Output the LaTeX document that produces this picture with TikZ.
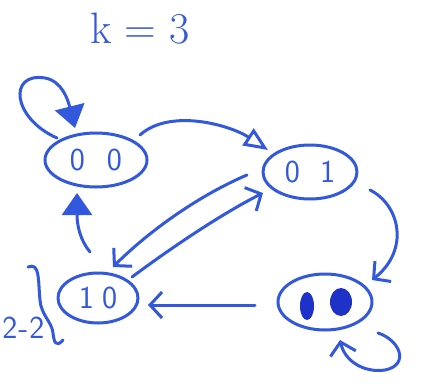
\documentclass[tikz,border=0pt]{standalone}
\usetikzlibrary{arrows.meta,shapes.geometric,calc}
\definecolor{pen}{RGB}{50,88,220}
\definecolor{ink}{RGB}{30,50,200}
\begin{document}
\begin{tikzpicture}[x=1pt,y=-1pt,
  line cap=round, line join=round,
  state/.style={draw=pen, ellipse, inner sep=0pt, line width=3pt,
    font=\sffamily\fontsize{32}{32}\selectfont, text=pen},
  edge/.style={draw=pen, line width=3pt},
  barb/.style={-{Straight Barb[length=12pt,width=26pt]}},
  ftri/.style={-{Triangle[length=22pt,width=30pt]}},
  otri/.style={-{Triangle[open,length=24pt,width=20pt]}}
]
\useasboundingbox (0,0) rectangle (421,388);

\node[text=pen, font=\fontsize{44}{44}\selectfont] (k) at (140,29) {k = 3};

\node[state, minimum width=102pt, minimum height=54pt] (n00) at (96,160) {0\hspace{22pt}0};
\node[state, minimum width=94pt, minimum height=54pt] (n01) at (310,172) {0\hspace{20pt}1};
\node[state, minimum width=80pt, minimum height=50pt] (n10) at (98,298) {1\hspace{8pt}0};
\node[state, minimum width=94pt, minimum height=56pt] (n11) at (325,302) {};
\fill[ink] ($(n11)+(-18,4)$) ellipse [x radius=7pt, y radius=14pt];
\fill[ink] ($(n11)+(16,0)$) ellipse [x radius=11pt, y radius=14pt];

\node[text=pen, font=\sffamily\fontsize{32}{32}\selectfont, anchor=east] (lbl) at (48,328) {2\kern1pt-\kern1pt2};
\draw[edge] (28,267) .. controls (40,262) and (38,280) .. (40,300)
  .. controls (41,315) and (52,322) .. (53,333)
  .. controls (54,342) and (56,348) .. (63,340);

% loop on 00
\draw[edge, ftri] ($(n00)+(-39,-22)$) .. controls (12,118) and (8,72) .. (45,78)
  .. controls (62,81) and (68,100) .. ($(n00)+(-21,-32)$);
% 00 -> 01
\draw[edge, otri] ($(n00)+(44,-25)$) .. controls (170,108) and (230,125) .. ($(n01)+(-42,-22)$);
% 10 -> 00
\draw[edge, ftri] ($(n10)+(-8,-46)$) .. controls (80,240) and (77,225) .. ($(n00)+(-19,33)$);
% 01 -> 10
\draw[edge, barb] ($(n01)+(-63,3)$) .. controls (200,195) and (150,230) .. ($(n10)+(15,-31)$);
% 10 -> 01
\draw[edge, barb] ($(n10)+(34,-21)$) .. controls (175,245) and (225,212) .. ($(n01)+(-47,21)$);
% 01 -> 11
\draw[edge, barb] ($(n01)+(60,18)$) .. controls (400,205) and (410,250) .. ($(n11)+(47,-22)$);
% 11 -> 10
\draw[edge, barb] ($(n11)+(-70,3)$) -- ($(n10)+(50,7)$);
% loop on 11
\draw[edge, barb] ($(n11)+(53,31)$) .. controls (400,340) and (410,365) .. (385,370)
  .. controls (365,373) and (345,362) .. ($(n11)+(15,38)$);
\end{tikzpicture}
\end{document}
